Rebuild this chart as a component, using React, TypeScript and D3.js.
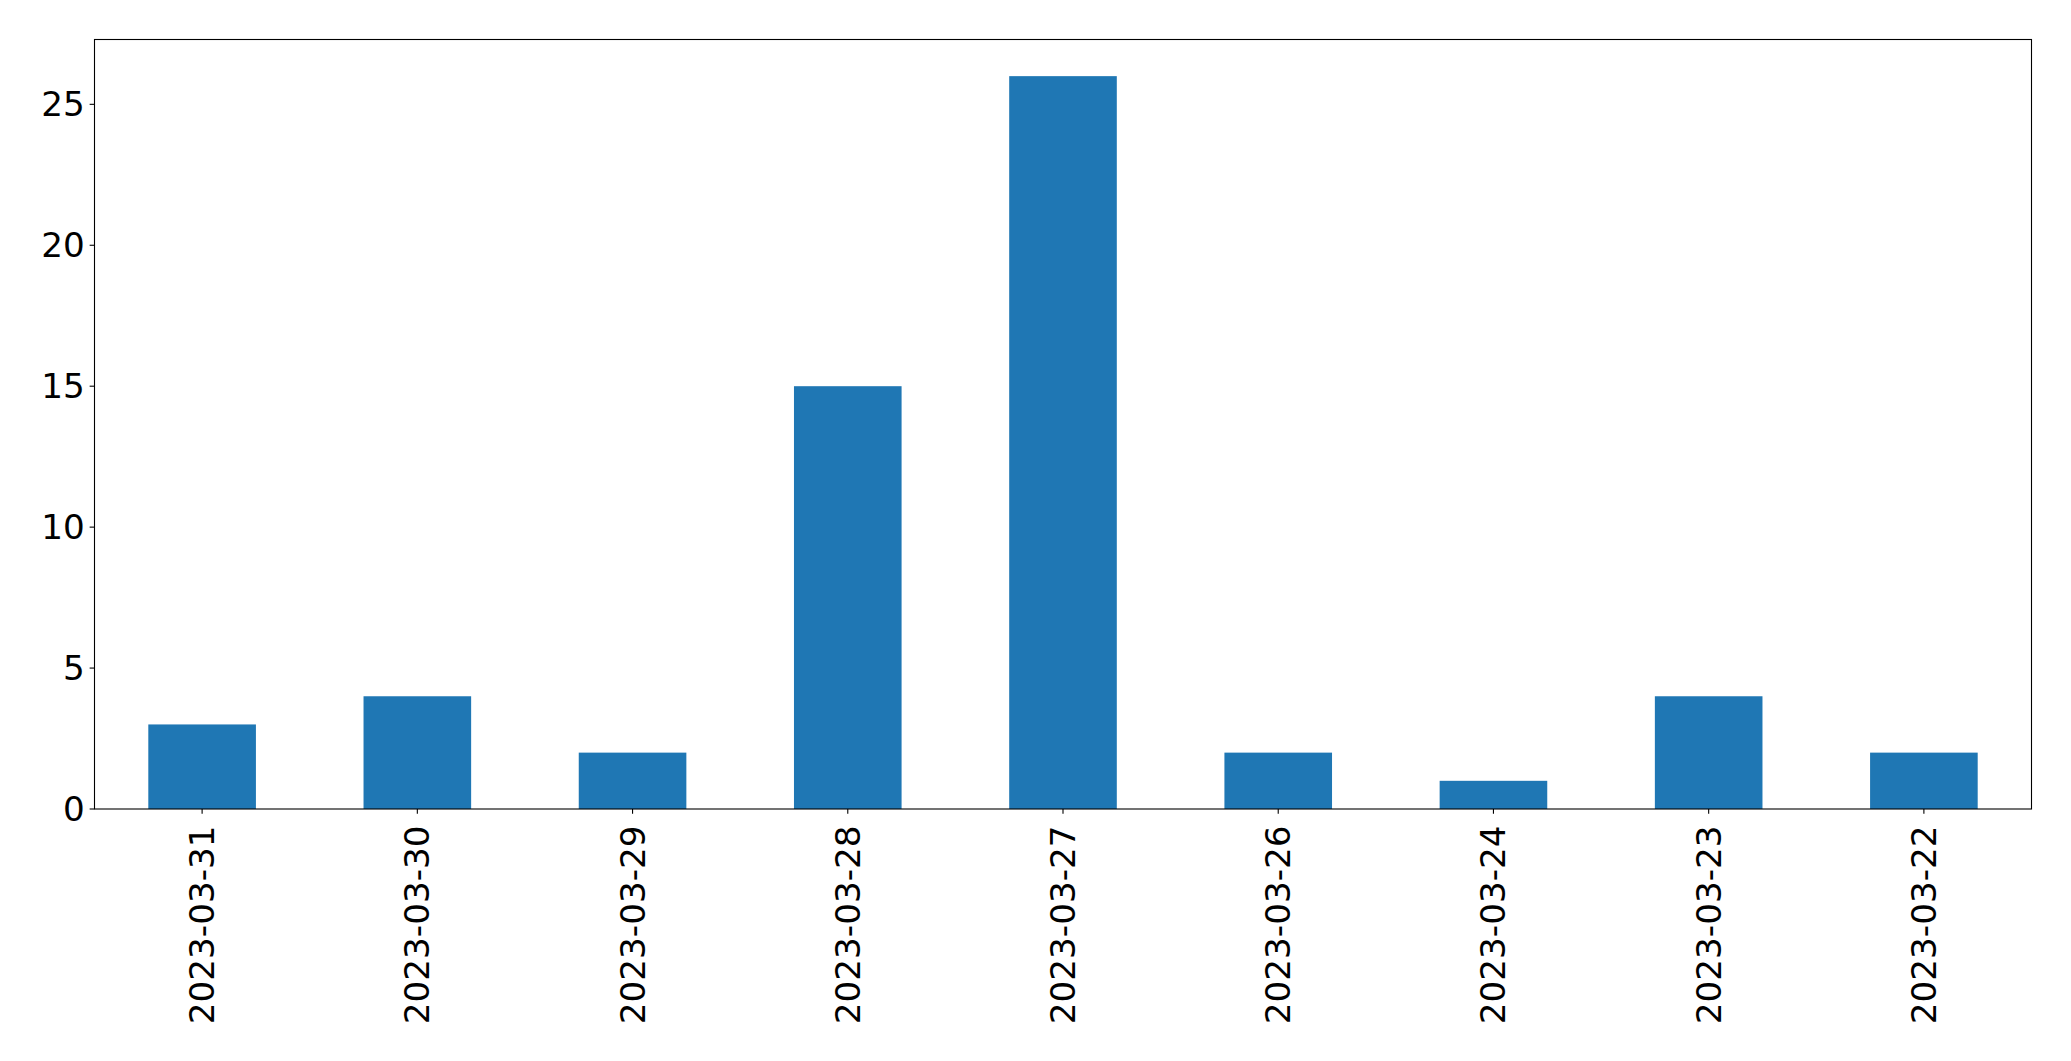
import React from "react";
import * as d3 from "d3";

const categories = [
  "2023-03-31",
  "2023-03-30",
  "2023-03-29",
  "2023-03-28",
  "2023-03-27",
  "2023-03-26",
  "2023-03-24",
  "2023-03-23",
  "2023-03-22",
];
const values = [3, 4, 2, 15, 26, 2, 1, 4, 2];
const yTicks = [0, 5, 10, 15, 20, 25];

const W = 2071;
const H = 1061;
const left = 94.5;
const right = 2031.5;
const top = 39.5;
const bottom = 809;
const FONT = 34.2;
const TICK = 4.86;

export default function App() {
  const n = categories.length;
  const x = d3.scaleLinear().domain([-0.5, n - 0.5]).range([left, right]);
  const yMax = d3.max(values)! * 1.05;
  const y = d3.scaleLinear().domain([0, yMax]).range([bottom, top]);
  const bw = x(0.25) - x(-0.25);

  return (
    <svg
      width={W}
      height={H}
      style={{ position: "absolute", left: 0, top: 0, background: "#fff" }}
      fontFamily="DejaVu Sans"
    >
      <rect x={0} y={0} width={W} height={H} fill="#fff" />
      {values.map((v, i) => (
        <rect
          key={i}
          x={x(i) - bw / 2}
          y={y(v)}
          width={bw}
          height={y(0) - y(v)}
          fill="#1f77b4"
        />
      ))}
      {yTicks.map((t) => (
        <g key={t}>
          <line x1={left - TICK} x2={left} y1={y(t)} y2={y(t)} stroke="#000" strokeWidth={1.1} />
          <text
            x={left - TICK - 4.86}
            y={y(t)}
            textAnchor="end"
            dominantBaseline="central"
            fontSize={FONT}
            fill="#000"
          >
            {t}
          </text>
        </g>
      ))}
      {categories.map((c, i) => (
        <g key={c}>
          <line x1={x(i)} x2={x(i)} y1={bottom} y2={bottom + TICK} stroke="#000" strokeWidth={1.1} />
          <text
            transform={`translate(${x(i)},${bottom + 16.5}) rotate(-90)`}
            textAnchor="end"
            dominantBaseline="central"
            fontSize={FONT}
            fill="#000"
          >
            {c}
          </text>
        </g>
      ))}
      <rect
        x={left}
        y={top}
        width={right - left}
        height={bottom - top}
        fill="none"
        stroke="#000"
        strokeWidth={1.1}
      />
    </svg>
  );
}
